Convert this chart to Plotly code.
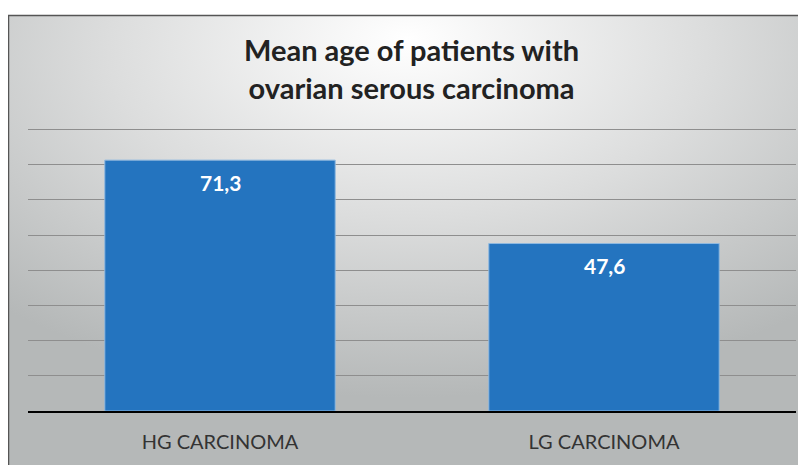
import plotly.graph_objects as go

categories = ["HG CARCINOMA", "LG CARCINOMA"]
mean_age = [71.3, 47.6]
value_labels = ["71,3", "47,6"]

# the page body has an 8px margin, so the figure is drawn 8px in
OFF = 8
W, H = 806 - OFF, 465 - OFF
L, R, T, B = 28 - OFF, 10, 126 - OFF, 54
pw, ph = W - L - R, H - T - B


def px_x(p):
    return (p - OFF - L) / pw


def px_y(p):
    return (H - B - (p - OFF)) / ph


bg_svg = (
    "data:image/svg+xml;utf8,"
    "<svg xmlns='http://www.w3.org/2000/svg' width='800' height='450'>"
    "<defs><radialGradient id='g' cx='0.5' cy='0.1' r='0.75' fx='0.5' fy='0.05'>"
    "<stop offset='0' stop-color='%23ffffff'/>"
    "<stop offset='0.5' stop-color='%23dcdddd'/>"
    "<stop offset='1' stop-color='%23b5b8b8'/>"
    "</radialGradient></defs>"
    "<rect width='800' height='450' fill='url(%23g)'/></svg>"
)

fig = go.Figure()
fig.add_trace(
    go.Bar(
        x=categories,
        y=mean_age,
        marker=dict(color="#2474bf", line=dict(color="#8fb8e0", width=1)),
        width=0.6,
        hoverinfo="skip",
    )
)

for cat, val, lab in zip(categories, mean_age, value_labels):
    fig.add_annotation(
        x=cat,
        y=val,
        text=f"<b>{lab}</b>",
        showarrow=False,
        yshift=-22,
        font=dict(family="Lato, Open Sans, sans-serif", size=21, color="white"),
    )

fig.add_annotation(
    x=px_x(411),
    y=px_y(68),
    xref="paper",
    yref="paper",
    xanchor="center",
    yanchor="middle",
    text="<b>Mean age of patients with<br>ovarian serous carcinoma</b>",
    showarrow=False,
    font=dict(family="Lato, Open Sans, sans-serif", size=29, color="#222222"),
)

fig.add_layout_image(
    source=bg_svg,
    xref="paper",
    yref="paper",
    x=px_x(9),
    y=px_y(16),
    sizex=px_x(806) - px_x(9),
    sizey=px_y(16) - px_y(465),
    xanchor="left",
    yanchor="top",
    sizing="stretch",
    layer="below",
)

# outer frame
fig.add_shape(
    type="path",
    xref="paper",
    yref="paper",
    path=f"M {px_x(8.5)} {px_y(470)} L {px_x(8.5)} {px_y(15.5)} L {px_x(810)} {px_y(15.5)}",
    line=dict(color="#555555", width=1.5),
)

fig.update_layout(
    width=W,
    height=H,
    margin=dict(l=L, r=R, t=T, b=B),
    paper_bgcolor="white",
    plot_bgcolor="rgba(0,0,0,0)",
    showlegend=False,
    bargap=0.4,
)
fig.update_xaxes(
    showline=True,
    linecolor="black",
    linewidth=2,
    ticks="",
    tickfont=dict(family="Lato, Open Sans, sans-serif", size=20, color="#333333"),
    ticklabelstandoff=12,
)
fig.update_yaxes(
    range=[0, 81],
    dtick=10,
    showgrid=True,
    gridcolor="#8e8e8e",
    gridwidth=1,
    showticklabels=False,
    zeroline=False,
)

fig.write_html("out.html")
